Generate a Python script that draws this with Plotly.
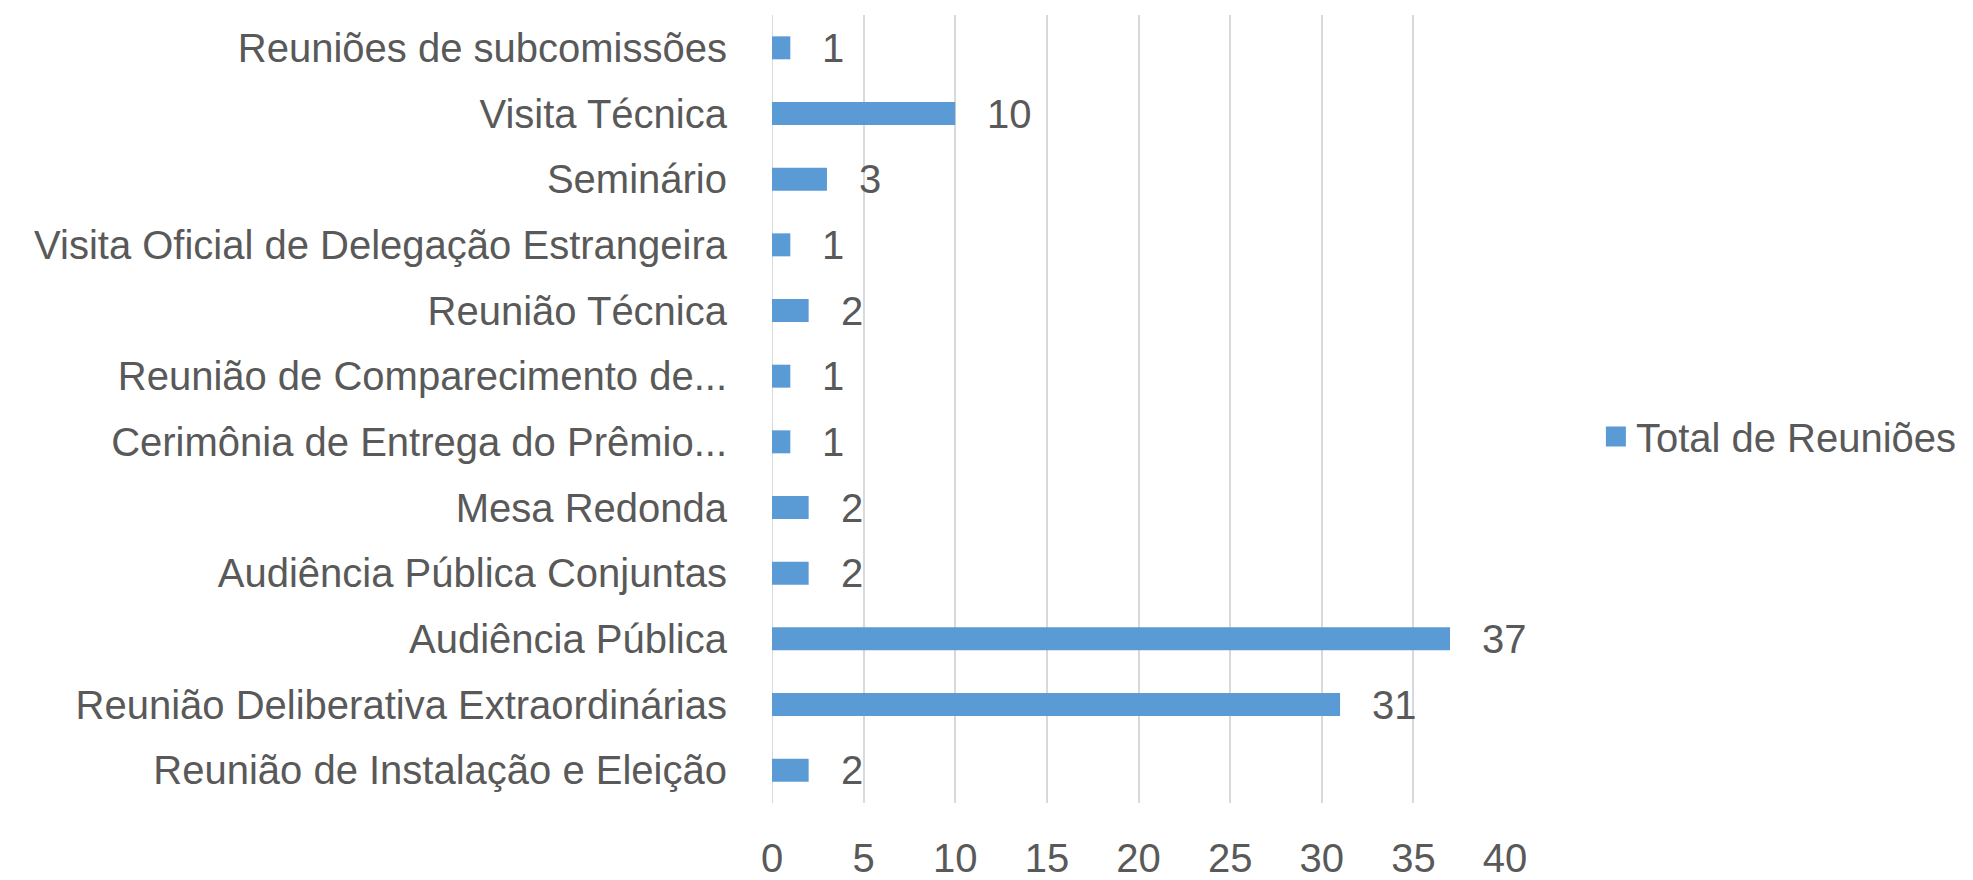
import plotly.graph_objects as go

categories = [
    "Reunião de Instalação e Eleição",
    "Reunião Deliberativa Extraordinárias",
    "Audiência Pública",
    "Audiência Pública Conjuntas",
    "Mesa Redonda",
    "Cerimônia de Entrega do Prêmio...",
    "Reunião de Comparecimento de...",
    "Reunião Técnica",
    "Visita Oficial de Delegação Estrangeira",
    "Seminário",
    "Visita Técnica",
    "Reuniões de subcomissões",
]
values = [2, 31, 37, 2, 2, 1, 1, 2, 1, 3, 10, 1]
series_name = "Total de Reuniões"
x_ticks = [0, 5, 10, 15, 20, 25, 30, 35, 40]

FONT = "Liberation Sans, Arial, sans-serif"
TXT = "#595959"
BAR = "#5B9BD5"

fig = go.Figure()
fig.add_trace(go.Bar(
    y=categories, x=values, orientation="h", name=series_name,
    marker=dict(color=BAR, line=dict(width=0)),
    showlegend=False,
))
# legend entry with a larger square swatch
fig.add_trace(go.Scatter(
    x=[None], y=[None], mode="markers", name=series_name,
    marker=dict(symbol="square", size=22, color=BAR,
                line=dict(color=BAR, width=4)),
    showlegend=True,
))

for c, v in zip(categories, values):
    fig.add_annotation(x=v, y=c, text=str(v), showarrow=False,
                       xanchor="left", yanchor="middle", xshift=30,
                       font=dict(family=FONT, size=40, color=TXT))

# page body has an 8px margin, so the figure is slightly smaller and offset
fig.update_layout(
    width=1965, height=872,
    margin=dict(l=764, r=468, t=7, b=77, pad=0, autoexpand=False),
    paper_bgcolor="white", plot_bgcolor="white",
    bargap=0.65,
    font=dict(family=FONT, size=40, color=TXT),
    legend=dict(x=1.124, y=0.465, xanchor="left", yanchor="middle",
                font=dict(family=FONT, size=40, color=TXT),
                itemsizing="trace", itemwidth=30, bgcolor="rgba(0,0,0,0)"),
    showlegend=True,
)
fig.update_xaxes(range=[0, 40], tickvals=x_ticks, showgrid=True,
                 gridcolor="#D9D9D9", gridwidth=2, zeroline=False,
                 showline=False, ticks="", ticklabelstandoff=28,
                 automargin=False,
                 tickfont=dict(family=FONT, size=40, color=TXT))
fig.update_yaxes(showgrid=False, zeroline=False, showline=False,
                 ticks="", ticklabelstandoff=44, automargin=False,
                 tickfont=dict(family=FONT, size=40, color=TXT))
fig.add_shape(type="line", xref="x", yref="paper", x0=0, x1=0, y0=0, y1=1,
              line=dict(color="#D9D9D9", width=2), layer="below")

fig.write_html("out.html")
